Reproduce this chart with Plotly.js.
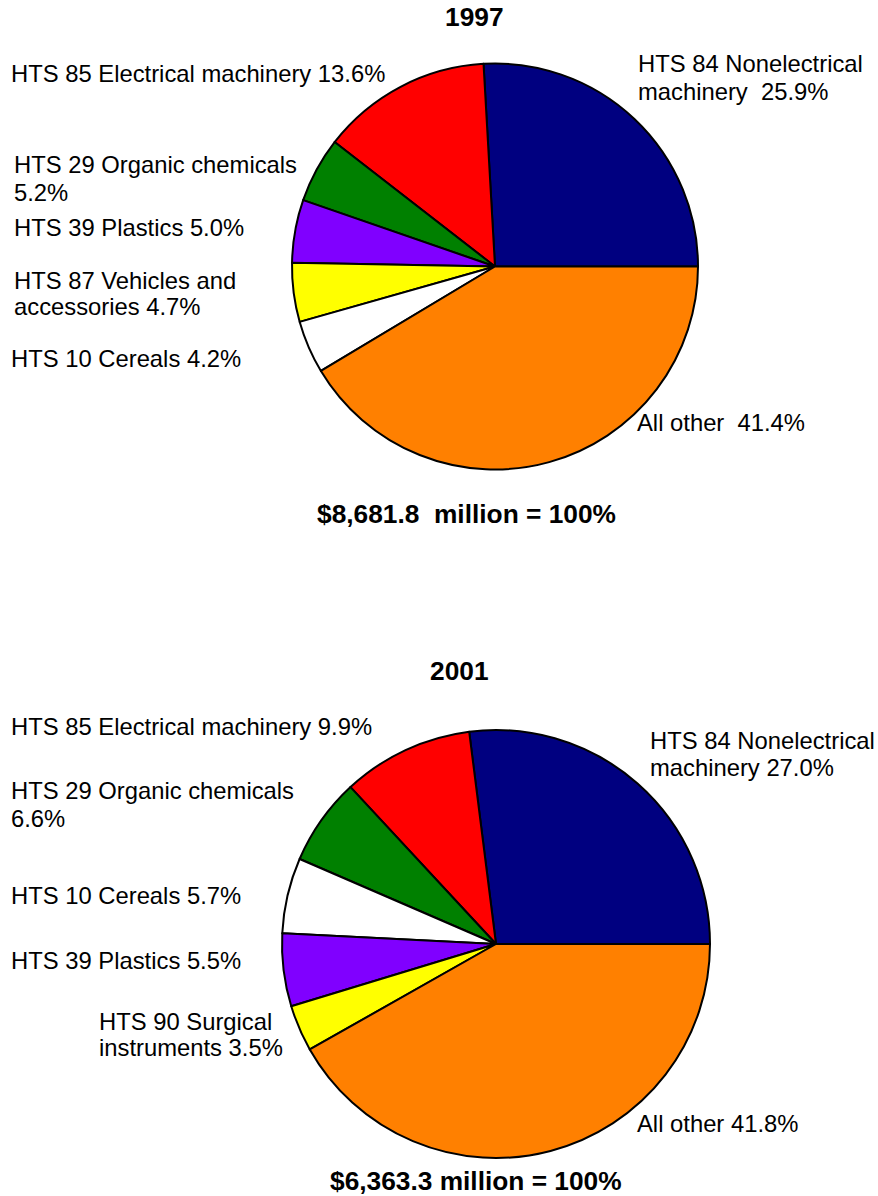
<!DOCTYPE html>
<html><head><meta charset="utf-8">
<script src="https://cdn.plot.ly/plotly-3.0.1.min.js"></script>
<style>html,body{margin:0;padding:0;background:#fff}#chart{width:878px;height:1196px}</style>
</head><body><div id="chart"></div>
<script>
// ---- data ----
const categories1997 = ["HTS 84 Nonelectrical machinery", "HTS 85 Electrical machinery", "HTS 29 Organic chemicals", "HTS 39 Plastics", "HTS 87 Vehicles and accessories", "HTS 10 Cereals", "All other"];
const values1997 = [25.9, 13.6, 5.2, 5.0, 4.7, 4.2, 41.4];
const labels1997 = ["HTS 84 Nonelectrical<br>machinery\u00a0 25.9%", "HTS 85 Electrical machinery 13.6%", "HTS 29 Organic chemicals<br>5.2%", "HTS 39 Plastics 5.0%", "HTS 87 Vehicles and<br>accessories 4.7%", "HTS 10 Cereals 4.2%", "All other\u00a0 41.4%"];
const title1997 = "1997";
const total1997 = "$8,681.8\u00a0 million = 100%";

const categories2001 = ["HTS 84 Nonelectrical machinery", "HTS 85 Electrical machinery", "HTS 29 Organic chemicals", "HTS 10 Cereals", "HTS 39 Plastics", "HTS 90 Surgical instruments", "All other"];
const values2001 = [27.0, 9.9, 6.6, 5.7, 5.5, 3.5, 41.8];
const labels2001 = ["HTS 84 Nonelectrical<br>machinery 27.0%", "HTS 85 Electrical machinery 9.9%", "HTS 29 Organic chemicals<br>6.6%", "HTS 10 Cereals 5.7%", "HTS 39 Plastics 5.5%", "HTS 90 Surgical<br>instruments 3.5%", "All other 41.8%"];
const title2001 = "2001";
const total2001 = "$6,363.3 million = 100%";

// ---- styles / layout ----
const colorMap = {
  "HTS 84 Nonelectrical machinery": "#000080",
  "HTS 85 Electrical machinery": "#ff0000",
  "HTS 29 Organic chemicals": "#008000",
  "HTS 39 Plastics": "#8000ff",
  "HTS 87 Vehicles and accessories": "#ffff00",
  "HTS 90 Surgical instruments": "#ffff00",
  "HTS 10 Cereals": "#ffffff",
  "All other": "#ff8000"
};
const W = 878, H = 1196;
const FONT = "Liberation Sans, Arial, Helvetica, sans-serif";
const LABEL_SIZE = 23.8, BOLD_SIZE = 26.3;

// pixel geometry of each pie: center x, center y, radius
const geo1997 = {cx: 495, cy: 266.5, r: 203};
const geo2001 = {cx: 496, cy: 944, r: 214};
// label line positions: [left x, [cap-centre y of each line]]
const pos1997 = [[639, [63.5, 91]], [12, [73.5]], [15, [165, 193]], [15, [228]], [15, [280, 306.5]], [12, [358]], [638, [423]]];
const pos2001 = [[651, [740, 767]], [12, [726.5]], [12, [790, 818]], [12, [896]], [12, [960]], [100, [1021, 1047]], [638, [1123]]];
const titlePos1997 = {x: 475, y: 17.5}, totalPos1997 = {x: 318, y: 514};
const titlePos2001 = {x: 459, y: 670.5}, totalPos2001 = {x: 331, y: 1181};

function pieTrace(cats, vals, g) {
  return {
    type: "pie",
    labels: cats,
    values: vals,
    sort: false,
    direction: "counterclockwise",
    rotation: 90 - vals[0] / vals.reduce((a, b) => a + b, 0) * 360,
    marker: {colors: cats.map(c => colorMap[c]), line: {color: "#000000", width: 2}},
    textinfo: "none",
    hoverinfo: "none",
    showlegend: false,
    domain: {
      x: [(g.cx - g.r) / W, (g.cx + g.r) / W],
      y: [1 - (g.cy + g.r) / H, 1 - (g.cy - g.r) / H]
    }
  };
}

const annotations = [];
function addText(text, px, py, anchor, bold) {
  annotations.push({
    xref: "paper", yref: "paper",
    x: (anchor === "left" ? px - 1 : px) / W, y: 1 - py / H,
    xanchor: anchor, yanchor: "middle",
    borderpad: 0, borderwidth: 0,
    text: bold ? "<b>" + text + "</b>" : text,
    showarrow: false,
    font: {family: FONT, size: bold ? BOLD_SIZE : LABEL_SIZE, color: "#000000"}
  });
}
function addLabels(labels, pos) {
  labels.forEach((lab, i) => {
    const lines = lab.split("<br>");
    lines.forEach((ln, j) => addText(ln, pos[i][0], pos[i][1][j], "left", false));
  });
}
addLabels(labels1997, pos1997);
addLabels(labels2001, pos2001);
addText(title1997, titlePos1997.x, titlePos1997.y, "center", true);
addText(total1997, totalPos1997.x, totalPos1997.y, "left", true);
addText(title2001, titlePos2001.x, titlePos2001.y, "center", true);
addText(total2001, totalPos2001.x, totalPos2001.y, "left", true);

const layout = {
  width: W, height: H,
  margin: {l: 0, r: 0, t: 0, b: 0},
  paper_bgcolor: "#ffffff",
  plot_bgcolor: "#ffffff",
  font: {family: FONT, color: "#000000"},
  annotations: annotations
};

Plotly.newPlot("chart", [pieTrace(categories1997, values1997, geo1997), pieTrace(categories2001, values2001, geo2001)], layout, {staticPlot: true, displayModeBar: false});
</script>
</body></html>
